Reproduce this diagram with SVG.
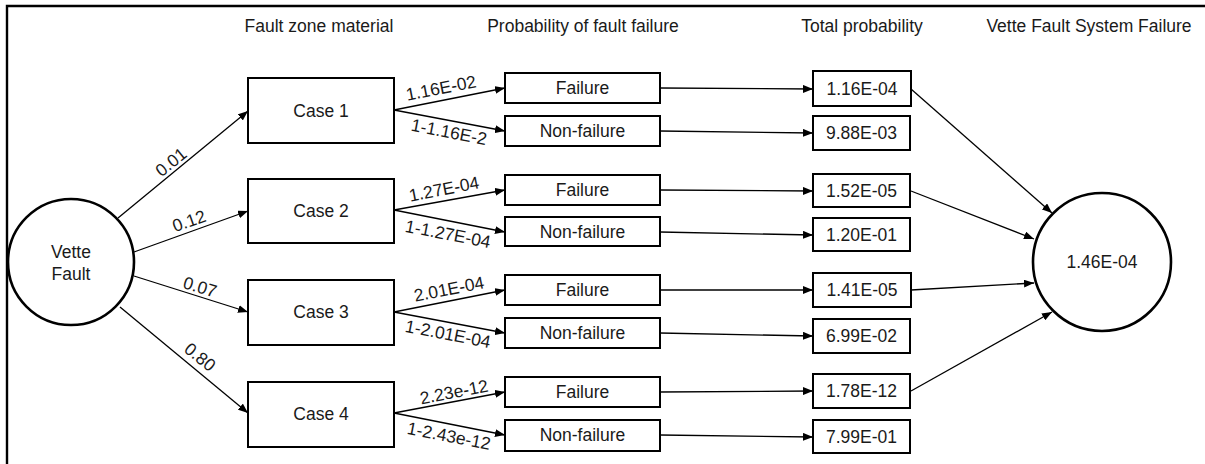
<svg xmlns="http://www.w3.org/2000/svg" width="1205" height="464" viewBox="0 0 1205 464">
<defs>
<marker id="ah" markerUnits="userSpaceOnUse" markerWidth="10" markerHeight="8" refX="10" refY="4" orient="auto">
<path d="M0,0 L10,4 L0,8 z" fill="#000"/>
</marker>
<style>
text{font-family:"Liberation Sans",Arial,sans-serif;font-size:17.5px;fill:#1a1a1a;}
.c{text-anchor:middle;}
.box{fill:#fff;stroke:#000;stroke-width:2;}
.circ{fill:#fff;stroke:#000;stroke-width:2.6;}
.ln{stroke:#000;stroke-width:1.3;fill:none;marker-end:url(#ah);}
.frame{stroke:#000;stroke-width:2.4;fill:none;}
</style>
</defs>
<rect width="1205" height="464" fill="#fff"/>
<path class="frame" d="M7,464 L7,6 L1205,6"/>

<g id="headers">
<text class="c" x="319" y="32">Fault zone material</text>
<text class="c" x="583" y="32">Probability of fault failure</text>
<text class="c" x="862" y="32">Total probability</text>
<text class="c" x="1089" y="32">Vette Fault System Failure</text>
</g>

<g id="connectors">
<line class="ln" x1="118" y1="218" x2="248" y2="111"/>
<line class="ln" x1="134" y1="252" x2="248" y2="211"/>
<line class="ln" x1="134" y1="276" x2="248" y2="312"/>
<line class="ln" x1="120" y1="307" x2="248" y2="413"/>

<line class="ln" x1="394" y1="110" x2="505" y2="88"/>
<line class="ln" x1="394" y1="110" x2="505" y2="131"/>
<line class="ln" x1="394" y1="210" x2="505" y2="190"/>
<line class="ln" x1="394" y1="210" x2="505" y2="232"/>
<line class="ln" x1="394" y1="312" x2="505" y2="290"/>
<line class="ln" x1="394" y1="312" x2="505" y2="333"/>
<line class="ln" x1="394" y1="413" x2="505" y2="392"/>
<line class="ln" x1="394" y1="413" x2="505" y2="435"/>

<line class="ln" x1="660" y1="88" x2="813" y2="89"/>
<line class="ln" x1="660" y1="131" x2="813" y2="133"/>
<line class="ln" x1="660" y1="190" x2="813" y2="191"/>
<line class="ln" x1="660" y1="232" x2="813" y2="235"/>
<line class="ln" x1="660" y1="290" x2="813" y2="290"/>
<line class="ln" x1="660" y1="333" x2="813" y2="336"/>
<line class="ln" x1="660" y1="392" x2="813" y2="391"/>
<line class="ln" x1="660" y1="435" x2="813" y2="437"/>

<line class="ln" x1="911" y1="89" x2="1052" y2="213"/>
<line class="ln" x1="911" y1="191" x2="1034" y2="239"/>
<line class="ln" x1="911" y1="290" x2="1034" y2="283"/>
<line class="ln" x1="911" y1="391" x2="1052" y2="312"/>

<text class="c" transform="translate(171,162) rotate(-39)" y="6">0.01</text>
<text class="c" transform="translate(189,221) rotate(-19.5)" y="6">0.12</text>
<text class="c" transform="translate(200,287) rotate(17)" y="6">0.07</text>
<text class="c" transform="translate(200,357) rotate(39)" y="6">0.80</text>

<text class="c" transform="translate(441,88) rotate(-11)" y="6">1.16E-02</text>
<text class="c" transform="translate(449,132) rotate(11)" y="6">1-1.16E-2</text>
<text class="c" transform="translate(444,189) rotate(-11)" y="6">1.27E-04</text>
<text class="c" transform="translate(448,234) rotate(11)" y="6">1-1.27E-04</text>
<text class="c" transform="translate(449,289) rotate(-11)" y="6">2.01E-04</text>
<text class="c" transform="translate(448,334) rotate(11)" y="6">1-2.01E-04</text>
<text class="c" transform="translate(454,392) rotate(-11)" y="6">2.23e-12</text>
<text class="c" transform="translate(449,436) rotate(11)" y="6">1-2.43e-12</text>
</g>

<g id="vette-fault">
<circle class="circ" cx="71" cy="262" r="63"/>
<text class="c" x="71" y="258">Vette</text>
<text class="c" x="71" y="280">Fault</text>
</g>

<g id="case1"><rect class="box" x="248" y="78" width="146" height="65"/><text class="c" x="321" y="117">Case 1</text></g>
<g id="case2"><rect class="box" x="248" y="179" width="146" height="64"/><text class="c" x="321" y="217">Case 2</text></g>
<g id="case3"><rect class="box" x="248" y="280" width="146" height="65"/><text class="c" x="321" y="318">Case 3</text></g>
<g id="case4"><rect class="box" x="248" y="382" width="146" height="65"/><text class="c" x="321" y="420">Case 4</text></g>

<g id="f1"><rect class="box" x="505" y="73" width="155" height="30"/><text class="c" x="582.5" y="94">Failure</text></g>
<g id="n1"><rect class="box" x="505" y="116" width="155" height="30"/><text class="c" x="582.5" y="137">Non-failure</text></g>
<g id="f2"><rect class="box" x="505" y="175" width="155" height="30"/><text class="c" x="582.5" y="196">Failure</text></g>
<g id="n2"><rect class="box" x="505" y="217" width="155" height="29"/><text class="c" x="582.5" y="238">Non-failure</text></g>
<g id="f3"><rect class="box" x="505" y="275" width="155" height="30"/><text class="c" x="582.5" y="296">Failure</text></g>
<g id="n3"><rect class="box" x="505" y="318" width="155" height="30"/><text class="c" x="582.5" y="339">Non-failure</text></g>
<g id="f4"><rect class="box" x="505" y="377" width="155" height="30"/><text class="c" x="582.5" y="398">Failure</text></g>
<g id="n4"><rect class="box" x="505" y="420" width="155" height="31"/><text class="c" x="582.5" y="441">Non-failure</text></g>

<g id="t1"><rect class="box" x="813" y="71" width="98" height="35"/><text class="c" x="862" y="95">1.16E-04</text></g>
<g id="t2"><rect class="box" x="813" y="116" width="97" height="34"/><text class="c" x="861.5" y="139">9.88E-03</text></g>
<g id="t3"><rect class="box" x="813" y="174" width="97" height="33"/><text class="c" x="861.5" y="197">1.52E-05</text></g>
<g id="t4"><rect class="box" x="813" y="218" width="97" height="33"/><text class="c" x="861.5" y="241">1.20E-01</text></g>
<g id="t5"><rect class="box" x="813" y="273" width="98" height="34"/><text class="c" x="862" y="296">1.41E-05</text></g>
<g id="t6"><rect class="box" x="813" y="319" width="97" height="34"/><text class="c" x="861.5" y="342">6.99E-02</text></g>
<g id="t7"><rect class="box" x="813" y="374" width="97" height="34"/><text class="c" x="861.5" y="397">1.78E-12</text></g>
<g id="t8"><rect class="box" x="813" y="420" width="97" height="33"/><text class="c" x="861.5" y="443">7.99E-01</text></g>

<g id="system-failure">
<circle class="circ" cx="1102" cy="262" r="69"/>
<text class="c" x="1102" y="268">1.46E-04</text>
</g>
</svg>
